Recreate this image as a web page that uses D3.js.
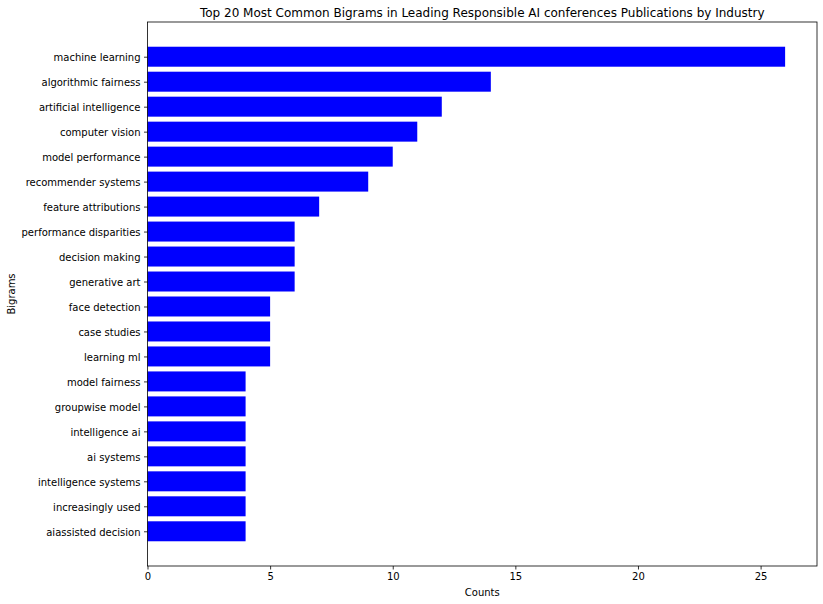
<!DOCTYPE html>
<html>
<head>
<meta charset="utf-8">
<script src="https://cdn.jsdelivr.net/npm/d3@7"></script>
<style>
  body { margin: 0; background: #fff; }
  svg { font-family: "DejaVu Sans", sans-serif; }
</style>
</head>
<body>
<div id="chart"></div>
<script>
// Bigrams, top to bottom
const bigrams = [
  "machine learning", "algorithmic fairness", "artificial intelligence", "computer vision",
  "model performance", "recommender systems", "feature attributions", "performance disparities",
  "decision making", "generative art", "face detection", "case studies", "learning ml",
  "model fairness", "groupwise model", "intelligence ai", "ai systems", "intelligence systems",
  "increasingly used", "aiassisted decision"
];
const counts = [26, 14, 12, 11, 10, 9, 7, 6, 6, 6, 5, 5, 5, 4, 4, 4, 4, 4, 4, 4];
const xTicks = [0, 5, 10, 15, 20, 25];

const width = 823, height = 604;
const margin = { top: 22, right: 6, bottom: 38, left: 147.5 };
const innerW = width - margin.left - margin.right;
const innerH = height - margin.top - margin.bottom;

const svg = d3.select("#chart").append("svg")
    .attr("width", width)
    .attr("height", height);

const g = svg.append("g")
    .attr("transform", `translate(${margin.left},${margin.top})`);

// x scale like matplotlib with 5% margin
const xMax = d3.max(counts) * 1.05;
const x = d3.scaleLinear().domain([0, xMax]).range([0, innerW]);

// y in bar index units, bar height 0.8, 5% margins
const n = bigrams.length;
const lo = -0.4, hi = n - 1 + 0.4;
const pad = (hi - lo) * 0.05;
const y = d3.scaleLinear().domain([lo - pad, hi + pad]).range([0, innerH]);

g.selectAll("rect.bar")
  .data(counts)
  .enter().append("rect")
    .attr("class", "bar")
    .attr("x", x(0))
    .attr("y", (d, i) => y(i - 0.4))
    .attr("width", d => x(d) - x(0))
    .attr("height", (d, i) => y(i + 0.4) - y(i - 0.4))
    .attr("fill", "#0000ff");

// x axis
const xAxis = g.append("g")
    .attr("transform", `translate(0,${innerH})`)
    .call(d3.axisBottom(x).tickValues(xTicks).tickSize(3.5).tickPadding(3.5));

// y axis
const yAxis = g.append("g")
    .call(d3.axisLeft(y).tickValues(d3.range(n)).tickFormat(i => bigrams[i]).tickSize(3.5).tickPadding(3.5));

[xAxis, yAxis].forEach(a => {
  a.selectAll("text").attr("font-size", 10).attr("fill", "#000").attr("font-family", "DejaVu Sans, sans-serif");
  a.selectAll("line").attr("stroke", "#000").attr("stroke-width", 0.8);
  a.select(".domain").remove();
});
yAxis.selectAll("text").attr("dy", "0.42em");

// frame
g.append("rect")
    .attr("x", 0).attr("y", 0)
    .attr("width", innerW).attr("height", innerH)
    .attr("fill", "none")
    .attr("stroke", "#000")
    .attr("stroke-width", 0.8);

// title
svg.append("text")
    .attr("x", margin.left + innerW / 2)
    .attr("y", margin.top - 5)
    .attr("text-anchor", "middle")
    .attr("font-size", 12)
    .text("Top 20 Most Common Bigrams in Leading Responsible AI conferences Publications by Industry");

// axis labels
svg.append("text")
    .attr("x", margin.left + innerW / 2)
    .attr("y", height - 8)
    .attr("text-anchor", "middle")
    .attr("font-size", 10)
    .text("Counts");

svg.append("text")
    .attr("transform", `translate(15,${margin.top + innerH / 2}) rotate(-90)`)
    .attr("text-anchor", "middle")
    .attr("font-size", 10)
    .text("Bigrams");
</script>
</body>
</html>
